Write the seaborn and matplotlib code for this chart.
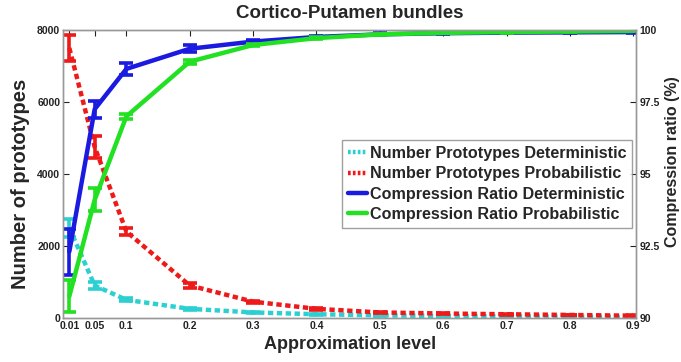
import matplotlib
matplotlib.use("Agg")
import matplotlib.pyplot as plt
import seaborn as sns
import pandas as pd

sns.set_style("white")
plt.rcParams["font.family"] = ["Liberation Sans", "DejaVu Sans"]
plt.rcParams["font.weight"] = "bold"

levels = [0.01, 0.05, 0.1, 0.2, 0.3, 0.4, 0.5, 0.6, 0.7, 0.8, 0.9]
level_labels = ["0.01", "0.05", "0.1", "0.2", "0.3", "0.4", "0.5", "0.6", "0.7", "0.8", "0.9"]

# number of prototypes (left axis)
proto_det = [2500, 900, 500, 250, 150, 100, 70, 50, 40, 30, 25]
proto_det_err = [250, 110, 40, 20, 15, 10, 8, 6, 5, 4, 4]
proto_prob = [7500, 4750, 2400, 900, 450, 250, 150, 120, 100, 80, 60]
proto_prob_err = [350, 300, 100, 60, 30, 20, 15, 12, 10, 8, 6]

# compression ratio in percent (right axis)
ratio_det = [92.3, 97.25, 98.65, 99.35, 99.6, 99.76, 99.85, 99.89, 99.91, 99.92, 99.93]
ratio_det_err = [0.8, 0.3, 0.2, 0.12, 0.06, 0.04, 0.03, 0.02, 0.02, 0.02, 0.02]
ratio_prob = [90.75, 94.1, 97.0, 98.9, 99.48, 99.72, 99.85, 99.9, 99.93, 99.95, 99.97]
ratio_prob_err = [0.55, 0.4, 0.08, 0.07, 0.04, 0.03, 0.02, 0.02, 0.02, 0.02, 0.02]

labels = [
    "Number Prototypes Deterministic",
    "Number Prototypes Probabilistic",
    "Compression Ratio Deterministic",
    "Compression Ratio Probabilistic",
]
colors = ["#2ccfd2", "#ee1a1a", "#1a1ae0", "#22e022"]

fig = plt.figure(figsize=(6.81, 3.62), dpi=100)
ax = fig.add_axes([0.0925, 0.122, 0.842, 0.795])
ax2 = ax.twinx()

lw = 3.2
dotted = (0, (1.2, 0.8))
handles = []
for a, y, e, lab, col, ls in [
    (ax, proto_det, proto_det_err, labels[0], colors[0], dotted),
    (ax, proto_prob, proto_prob_err, labels[1], colors[1], dotted),
    (ax2, ratio_det, ratio_det_err, labels[2], colors[2], "-"),
    (ax2, ratio_prob, ratio_prob_err, labels[3], colors[3], "-"),
]:
    df = pd.DataFrame({"level": levels, "value": y})
    sns.lineplot(data=df, x="level", y="value", ax=a, color=col, lw=lw,
                 linestyle=ls, label=lab, legend=False)
    a.errorbar(levels, y, yerr=e, fmt="none", ecolor=col, elinewidth=2.6,
               capsize=5, capthick=2.6)
    handles.append(plt.Line2D([], [], color=col, lw=lw,
                              linestyle=ls if ls == "-" else (0, (0.6, 0.5))))

ax.set_xlim(0, 0.905)
ax.set_ylim(0, 8000)
ax2.set_ylim(90, 100)
ax.set_xticks(levels)
ax.set_xticklabels(level_labels)
ax.set_yticks([0, 2000, 4000, 6000, 8000])
ax2.set_yticks([90, 92.5, 95, 97.5, 100])
ax2.set_yticklabels(["90", "92.5", "95", "97.5", "100"])

for a in (ax, ax2):
    a.tick_params(labelsize=7.5, length=4, width=0.8, colors="#222222", pad=2)
    a.tick_params(direction="in")
    for s in a.spines.values():
        s.set_color("#999999")
        s.set_linewidth(1.0)
ax.tick_params(axis="x", top=True, direction="in")

ax.set_xlabel("Approximation level", fontsize=13, fontweight="bold", labelpad=4)
ax.set_ylabel("")
ax2.set_ylabel("")
ax.set_title("Cortico-Putamen bundles", fontsize=13.5, fontweight="bold", pad=9)

W, H = 681, 362
fig.text(21 / W, 1 - 184 / H, "Number of prototypes", rotation=90,
         ha="center", va="center", fontsize=14.5, fontweight="bold")
fig.text(672 / W, 1 - 162 / H, "Compression ratio (%)", rotation=90,
         ha="center", va="center", fontsize=11.5, fontweight="bold")

leg = ax2.legend(handles, labels, loc="center right", bbox_to_anchor=(1.0, 0.465),
                 borderaxespad=0.25, frameon=True, fancybox=False, handlelength=1.2,
                 handletextpad=0.2, borderpad=0.35, labelspacing=0.33,
                 prop={"weight": "bold", "size": 11.6})
leg.get_frame().set_edgecolor("#888888")
leg.get_frame().set_linewidth(1.0)

fig.savefig("out.png", dpi=100)
